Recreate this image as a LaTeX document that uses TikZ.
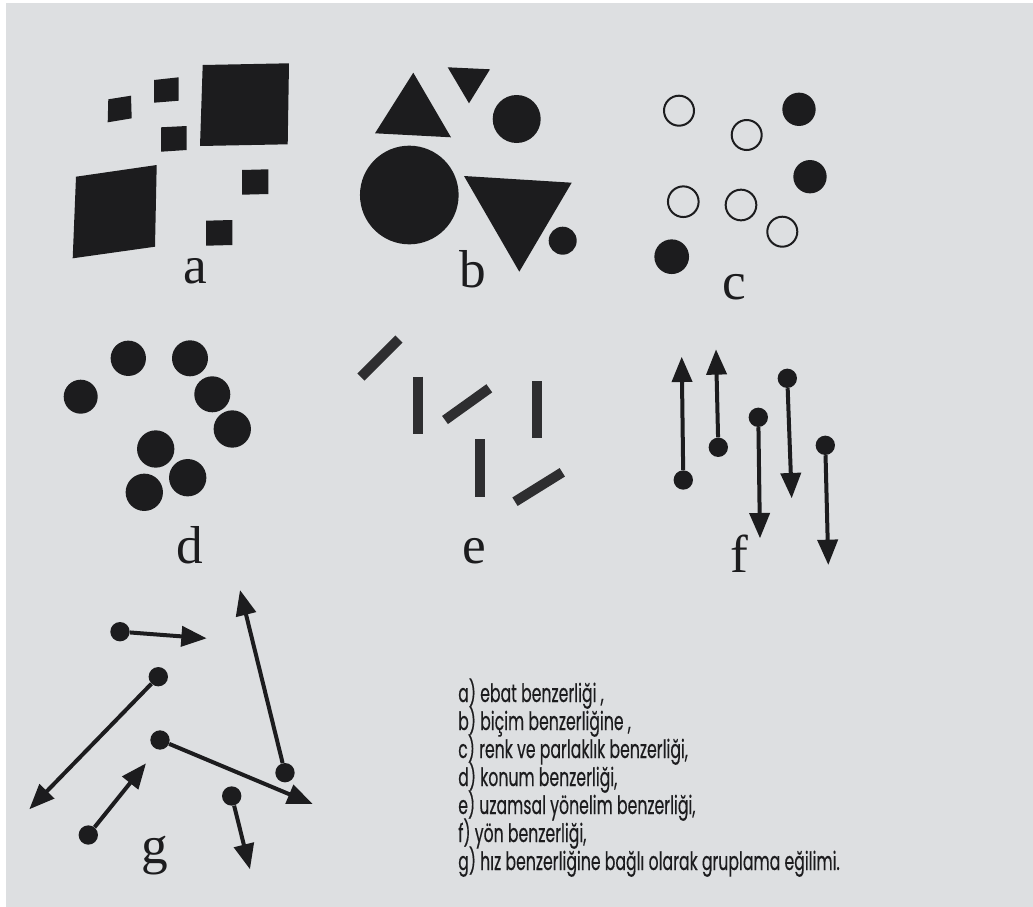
\documentclass[tikz,border=0pt]{standalone}
\usepackage{fontspec}
\setmainfont{Liberation Serif}
\newfontfamily\capfont[FakeStretch=0.62,FakeBold=0.3]{Poppins}
\usetikzlibrary{arrows.meta}
\definecolor{paper}{HTML}{DDDFE1}
\definecolor{ink}{HTML}{1C1C1E}
\definecolor{barink}{HTML}{2E2E30}
\tikzset{
  blk/.style={fill=ink, draw=none},
  ddot/.style={circle, fill=ink, inner sep=0pt, minimum size=#1},
  ring/.style={circle, draw=ink, line width=1.5pt, fill=none, inner sep=0pt, minimum size=#1},
  sdot/.style={circle, fill=ink, inner sep=0pt, minimum size=14.5pt},
  arr/.style={draw=ink, line width=3pt, -{Triangle[length=19pt,width=15pt]}},
  bar/.style={draw=barink, line width=7.5pt, line cap=butt},
  lbl/.style={anchor=base, inner sep=0pt, font=\fontsize{40}{40}\selectfont, text=ink},
  capline/.style={anchor=base west, inner sep=0pt, font=\capfont\fontsize{19}{21}\selectfont, text=ink}
}
\begin{document}
\begin{tikzpicture}[x=0.75pt,y=-0.75pt]
\useasboundingbox (0,0) rectangle (1033,907);
\fill[white] (0,0) rectangle (1033,907);
\fill[paper] (6,3) rectangle (1033,907);

% ---------- a: size ----------
\fill[blk] (108.3,99.3) -- (131,95.7) -- (131.7,118.3) -- (107.7,122.3) -- cycle;
\fill[blk] (154,80) -- (178.7,77.3) -- (178.7,100.7) -- (154,102.7) -- cycle;
\fill[blk] (161,127.3) -- (186.7,126) -- (186.7,150) -- (161,151.7) -- cycle;
\fill[blk] (202.7,65) -- (289,63.3) -- (287.7,144.3) -- (200,146) -- cycle;
\fill[blk] (76,176.7) -- (156.7,165) -- (155,246.7) -- (72.7,258.3) -- cycle;
\fill[blk] (242,170) -- (268.3,169.3) -- (268.3,194) -- (242,194.7) -- cycle;
\fill[blk] (206,220.7) -- (232.3,220) -- (232.3,245) -- (206,245.7) -- cycle;
\node[lbl] (la) at (195,283) {a};

% ---------- b: shape ----------
\fill[blk] (375,133.3) -- (413.3,72.7) -- (451,137.3) -- cycle;
\fill[blk] (447.7,67.3) -- (490,69.3) -- (469,103.3) -- cycle;
\node[ddot=36pt] (b1) at (516.7,119) {};
\node[ddot=74pt] (b2) at (409.3,195) {};
\fill[blk] (464,176) -- (571.7,182.7) -- (519.3,271.7) -- cycle;
\node[ddot=21pt] (b3) at (562.7,240.7) {};
\node[lbl] (lb) at (473,287) {b};

% ---------- c: colour ----------
\node[ring=22.5pt] (c1) at (679,110.7) {};
\node[ring=22.5pt] (c2) at (746.7,135) {};
\node[ddot=25pt] (c3) at (799,109.3) {};
\node[ddot=25pt] (c4) at (810,176.7) {};
\node[ring=23pt] (c5) at (683.3,201.7) {};
\node[ring=23pt] (c6) at (741,205) {};
\node[ring=22.5pt] (c7) at (782.3,231.7) {};
\node[ddot=26pt] (c8) at (671.7,256.7) {};
\node[lbl] (lc) at (734,299) {c};

% ---------- d: proximity ----------
\node[ddot=26.5pt] (d1) at (128.3,358.3) {};
\node[ddot=27pt] (d2) at (190,358.3) {};
\node[ddot=25.5pt] (d3) at (80.7,396.7) {};
\node[ddot=27pt] (d4) at (212.3,394.3) {};
\node[ddot=28pt] (d5) at (232.3,429) {};
\node[ddot=28pt] (d6) at (155.7,449) {};
\node[ddot=28pt] (d7) at (187.7,477.7) {};
\node[ddot=28pt] (d8) at (144.3,492.3) {};
\node[lbl] (ld) at (190,563) {d};

% ---------- e: orientation ----------
\coordinate (e1a) at (361,377); \coordinate (e1b) at (399,339);
\coordinate (e2a) at (418.3,376.7); \coordinate (e2b) at (418.3,434);
\coordinate (e3a) at (445,420); \coordinate (e3b) at (489.3,388.3);
\coordinate (e4a) at (537.3,381); \coordinate (e4b) at (537.3,437.7);
\coordinate (e5a) at (480,439.3); \coordinate (e5b) at (480,497.3);
\coordinate (e6a) at (515,501.7); \coordinate (e6b) at (562.3,472.3);
\draw[bar] (e1a) -- (e1b);
\draw[bar] (e2a) -- (e2b);
\draw[bar] (e3a) -- (e3b);
\draw[bar] (e4a) -- (e4b);
\draw[bar] (e5a) -- (e5b);
\draw[bar] (e6a) -- (e6b);
\node[lbl] (le) at (474,563) {e};

% ---------- f: direction ----------
\node[sdot] (f1) at (683.3,480) {};
\coordinate (f1t) at (681.7,356.7);
\node[sdot] (f2) at (718.3,447.3) {};
\coordinate (f2t) at (716,349.3);
\node[sdot] (f3) at (758.3,417.3) {};
\coordinate (f3t) at (760,538.3);
\node[sdot] (f4) at (787.3,378.3) {};
\coordinate (f4t) at (791.7,498.3);
\node[sdot] (f5) at (825.3,445.3) {};
\coordinate (f5t) at (828.3,565);
\draw[arr] (f1) -- (f1t);
\draw[arr] (f2) -- (f2t);
\draw[arr] (f3) -- (f3t);
\draw[arr] (f4) -- (f4t);
\draw[arr] (f5) -- (f5t);
\node[lbl] (lf) at (739,572) {f};

% ---------- g: speed ----------
\node[sdot] (g1) at (120,631.7) {};
\coordinate (g1t) at (206.7,638.3);
\node[sdot] (g2) at (158.3,676.7) {};
\coordinate (g2t) at (29.3,809.3);
\node[sdot] (g3) at (160,740) {};
\coordinate (g3t) at (312.7,804);
\node[sdot] (g4) at (285,772.7) {};
\coordinate (g4t) at (240,590);
\node[sdot] (g5) at (88.3,835) {};
\coordinate (g5t) at (146,763.3);
\node[sdot] (g6) at (231.7,796) {};
\coordinate (g6t) at (250,869.3);
\draw[arr] (g1) -- (g1t);
\draw[arr] (g2) -- (g2t);
\draw[arr] (g3) -- (g3t);
\draw[arr] (g4) -- (g4t);
\draw[arr] (g5) -- (g5t);
\draw[arr] (g6) -- (g6t);
\node[lbl] (lg) at (155,863) {g};

% ---------- caption ----------
\node[capline] (t1) at (458,702) {a) ebat benzerliği ,};
\node[capline] (t2) at (458,730) {b) biçim benzerliğine ,};
\node[capline] (t3) at (458,758) {c) renk ve parlaklık benzerliği,};
\node[capline] (t4) at (458,786) {d) konum benzerliği,};
\node[capline] (t5) at (458,814) {e) uzamsal yönelim benzerliği,};
\node[capline] (t6) at (458,842) {f) yön benzerliği,};
\node[capline] (t7) at (458,870) {g) hız benzerliğine bağlı olarak gruplama eğilimi.};
\end{tikzpicture}
\end{document}
